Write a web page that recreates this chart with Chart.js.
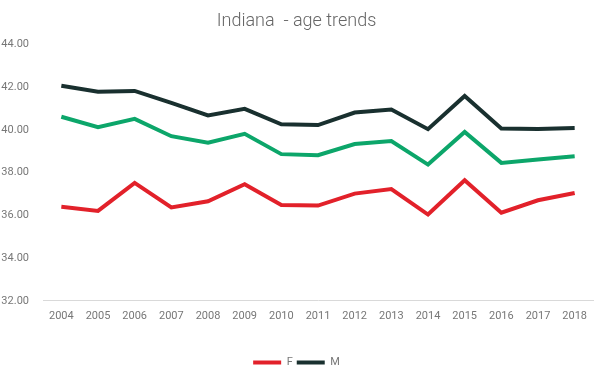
<!DOCTYPE html>
<html>
<head>
<meta charset="utf-8">
<script src="https://cdn.jsdelivr.net/npm/chart.js@4/dist/chart.umd.min.js"></script>
<style>
  html, body { margin: 0; padding: 0; background: #fff; }
  #wrap { width: 600px; height: 371px; }
</style>
</head>
<body>
<div id="wrap"><canvas id="myChart"></canvas></div>
<script>
const years = ["2004","2005","2006","2007","2008","2009","2010","2011","2012","2013","2014","2015","2016","2017","2018"];
const female = [36.40, 36.21, 37.52, 36.37, 36.66, 37.46, 36.49, 36.46, 37.02, 37.23, 36.04, 37.65, 36.13, 36.71, 37.05];
const male = [42.07, 41.79, 41.83, 41.27, 40.68, 40.99, 40.27, 40.23, 40.82, 40.96, 40.04, 41.59, 40.07, 40.05, 40.09];
const all = [40.62, 40.13, 40.52, 39.71, 39.40, 39.82, 38.87, 38.82, 39.34, 39.48, 38.38, 39.91, 38.46, 38.62, 38.77];

const ctx = document.getElementById("myChart").getContext("2d");
new Chart(ctx, {
  type: "line",
  data: {
    labels: years,
    datasets: [
      { label: "F", data: female, borderColor: "#e2212a", backgroundColor: "#e2212a", borderWidth: 4, pointRadius: 0, tension: 0 },
      { label: "M", data: male, borderColor: "#19302f", backgroundColor: "#19302f", borderWidth: 4, pointRadius: 0, tension: 0 },
      { label: "All", data: all, borderColor: "#0ca66a", backgroundColor: "#0ca66a", borderWidth: 4, pointRadius: 0, tension: 0 }
    ]
  },
  options: {
    responsive: true,
    maintainAspectRatio: false,
    animation: false,
    layout: { padding: { left: 0, right: 7, top: 4, bottom: -7 } },
    plugins: {
      title: {
        display: true,
        text: "Indiana  - age trends",
        color: "#666",
        font: { family: "Roboto", size: 18, weight: 300 },
        padding: { top: 7, bottom: 12 }
      },
      legend: {
        position: "bottom",
        labels: {
          filter: (item) => item.text !== "All",
          usePointStyle: true,
          pointStyle: "line",
          pointStyleWidth: 28,
          color: "#777",
          font: { family: "Roboto", size: 11 },
          padding: 4
        }
      },
      tooltip: { enabled: false }
    },
    scales: {
      x: {
        offset: true,
        grid: { display: false },
        border: { display: true, color: "#d9d9d9" },
        ticks: { color: "#777", font: { family: "Roboto", size: 11 }, maxRotation: 0, padding: 1 },
        afterFit: (s) => { s.height += 29; }
      },
      y: {
        min: 32,
        max: 44,
        grid: { display: false },
        border: { display: false },
        ticks: {
          stepSize: 2,
          color: "#777",
          font: { family: "Roboto", size: 11 },
          padding: 6,
          callback: (v) => v.toFixed(2)
        },
        afterFit: (s) => { s.width = 43; }
      }
    }
  }
});
</script>
</body>
</html>
